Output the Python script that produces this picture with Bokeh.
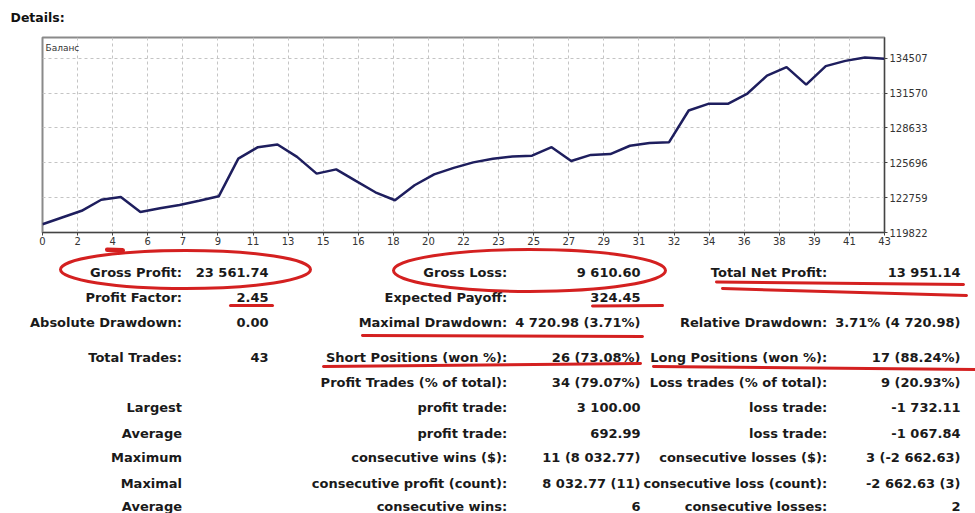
from bokeh.plotting import figure
from bokeh.models import Range1d, FixedTicker, CustomJSTickFormatter, BasicTickFormatter, Label
from bokeh.core.properties import value
from bokeh.embed import file_html
from bokeh.resources import INLINE

# ---------------- data ----------------
trade_idx = list(range(44))
balance = [120520, 121090, 121650, 122580, 122810, 121550, 121860, 122140, 122490, 122870,
           126040, 127010, 127240, 126190, 124780, 125140, 124170, 123210, 122540, 123800,
           124720, 125270, 125730, 126040, 126230, 126290, 127010, 125840, 126360, 126430,
           127130, 127370, 127430, 130100, 130660, 130660, 131530, 133040, 133750, 132280,
           133840, 134280, 134570, 134470]
x_tick_labels = ["0", "2", "4", "6", "7", "9", "11", "13", "15", "16", "18", "20", "22",
                 "23", "25", "27", "29", "31", "32", "34", "36", "38", "39", "41", "43"]
y_ticks = [119822, 122759, 125696, 128633, 131570, 134507]

col1_labels = ["Gross Profit:", "Profit Factor:", "Absolute Drawdown:", "Total Trades:", "",
               "Largest", "Average", "Maximum", "Maximal", "Average"]
col1_values = ["23 561.74", "2.45", "0.00", "43", "", "", "", "", "", ""]
col2_labels = ["Gross Loss:", "Expected Payoff:", "Maximal Drawdown:", "Short Positions (won %):",
               "Profit Trades (% of total):", "profit trade:", "profit trade:",
               "consecutive wins ($):", "consecutive profit (count):", "consecutive wins:"]
col2_values = ["9 610.60", "324.45", "4 720.98 (3.71%)", "26 (73.08%)", "34 (79.07%)",
               "3 100.00", "692.99", "11 (8 032.77)", "8 032.77 (11)", "6"]
col3_labels = ["Total Net Profit:", "", "Relative Drawdown:", "Long Positions (won %):",
               "Loss trades (% of total):", "loss trade:", "loss trade:",
               "consecutive losses ($):", "consecutive loss (count):", "consecutive losses:"]
col3_values = ["13 951.14", "", "3.71% (4 720.98)", "17 (88.24%)", "9 (20.93%)",
               "-1 732.11", "-1 067.84", "3 (-2 662.63)", "-2 662.63 (3)", "2"]

# ---------------- layout constants ----------------
W = 975
FONT = "DejaVu Sans"
RED = "#d42020"


def blank(height):
    f = figure(width=W, height=height, x_range=Range1d(0, W), y_range=Range1d(height, 0),
               output_backend="svg", toolbar_location=None, min_border=0)
    f.axis.visible = False
    f.grid.visible = False
    f.outline_line_color = None
    return f


# header
header = blank(28)
header.text(x=[10], y=[17], text=["Details:"], text_font=value(FONT), text_font_size="12.5px",
            text_font_style="bold", text_baseline="middle", text_align="left", text_color="#111111")

# chart
chart = figure(width=W, height=219, x_range=Range1d(0, 43), y_range=Range1d(119822, 136250),
               output_backend="svg", toolbar_location=None, y_axis_location="right",
               min_border_left=42, min_border_right=91, min_border_top=9, min_border_bottom=15)
chart.outline_line_color = "#8a8a8a"
chart.outline_line_width = 2

xt = FixedTicker(ticks=[j * 43 / 24 for j in range(25)])
chart.xaxis.ticker = xt
chart.xaxis.formatter = CustomJSTickFormatter(args=dict(labels=x_tick_labels),
                                              code="return labels[Math.round(tick*24/43)];")
chart.yaxis.ticker = FixedTicker(ticks=y_ticks)
chart.yaxis.formatter = BasicTickFormatter(use_scientific=False)
chart.xgrid.ticker = xt
chart.ygrid.ticker = FixedTicker(ticks=y_ticks)
for ax in (chart.xaxis[0], chart.yaxis[0]):
    ax.major_label_text_font = FONT
    ax.major_label_text_font_size = "10px"
    ax.major_label_text_color = "#333333"
    ax.axis_line_color = "#444444"
    ax.major_tick_line_color = "#444444"
    ax.major_tick_out = 3
    ax.major_tick_in = 0
    ax.minor_tick_line_color = None
chart.xaxis.major_label_standoff = 1
chart.yaxis.major_label_standoff = 2
for g in (chart.xgrid[0], chart.ygrid[0]):
    g.grid_line_color = "#c4c4c4"
    g.grid_line_dash = "3 3"
    g.grid_line_width = 1

chart.line(trade_idx, balance, line_color="#1e1e5e", line_width=2.5)
chart.add_layout(Label(x=0, y=136250, x_offset=3, y_offset=-10, text="Баланс",
                       text_font=FONT, text_font_size="9px", text_color="#333333",
                       text_baseline="middle"))

# table
table = blank(266)
row_y = [24.5, 49.5, 74.5, 109.5, 135, 160, 185.5, 210, 235.5, 259]
col_x = [181.5, 268, 506.7, 640, 826.7, 960]
cols = [col1_labels, col1_values, col2_labels, col2_values, col3_labels, col3_values]
for cx, texts in zip(col_x, cols):
    table.text(x=[cx] * len(texts), y=row_y, text=texts, text_font=value(FONT),
               text_font_size="13px", text_font_style="bold", text_align="right",
               text_baseline="middle", text_color="#1a1a1a")

# red hand annotations
table.ellipse(x=[185, 529], y=[22, 23], width=[250, 272], height=[38, 42],
              fill_color=None, line_color=RED, line_width=3)
table.segment(x0=[107, 230, 592, 362, 323, 716, 722, 653],
              y0=[2, 58, 58.5, 88, 119, 34.5, 41, 119],
              x1=[122, 272, 662, 642, 640, 963, 966, 975],
              y1=[3, 58, 58, 89, 116, 37, 48, 122],
              line_color=RED, line_width=[5, 3, 3, 3, 3, 3, 3, 3], line_cap="round")

open("out.html", "w").write(file_html([header, chart, table], INLINE))
